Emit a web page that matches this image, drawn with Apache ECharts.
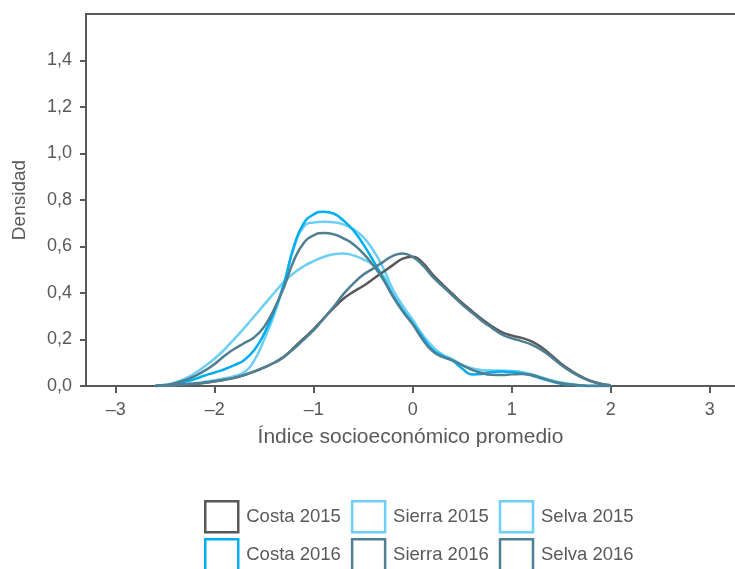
<!DOCTYPE html>
<html>
<head>
<meta charset="utf-8">
<script src="https://cdn.jsdelivr.net/npm/echarts@6/dist/echarts.min.js"></script>
<style>
  html, body { margin: 0; padding: 0; background: #fff; }
  #chart { width: 735px; height: 569px; }
</style>
</head>
<body>
<div id="chart"></div>
<script>
// puntos del índice (eje x), de -2,6 a 2,0
const indice = [-2.6, -2.5, -2.4, -2.3, -2.2, -2.1, -2.0, -1.9, -1.8, -1.7, -1.6, -1.5, -1.4, -1.3,
  -1.2, -1.1, -1.0, -0.9, -0.8, -0.7, -0.6, -0.5, -0.4, -0.3, -0.2, -0.1, 0, 0.1, 0.2, 0.3,
  0.4, 0.5, 0.6, 0.7, 0.8, 0.9, 1.0, 1.1, 1.2, 1.3, 1.4, 1.5, 1.6, 1.7, 1.8, 1.9, 2.0];

// densidades
const costa2015 = [0, 0.002, 0.004, 0.007, 0.01, 0.014, 0.02, 0.027, 0.035, 0.047, 0.062, 0.08, 0.1, 0.125,
  0.165, 0.205, 0.245, 0.29, 0.335, 0.375, 0.405, 0.43, 0.46, 0.49, 0.52, 0.548, 0.556, 0.53, 0.48, 0.437,
  0.397, 0.357, 0.322, 0.287, 0.257, 0.232, 0.217, 0.207, 0.192, 0.167, 0.132, 0.096, 0.066, 0.041, 0.022, 0.01, 0.003];
const costa2016 = [0, 0.003, 0.008, 0.018, 0.03, 0.045, 0.058, 0.072, 0.09, 0.112, 0.155, 0.225, 0.32, 0.44,
  0.6, 0.7, 0.738, 0.75, 0.742, 0.712, 0.67, 0.61, 0.54, 0.465, 0.39, 0.325, 0.27, 0.21, 0.155, 0.13,
  0.11, 0.075, 0.05, 0.052, 0.06, 0.062, 0.06, 0.055, 0.045, 0.032, 0.02, 0.01, 0.005, 0.002, 0, 0, 0];
const sierra2015 = [0, 0.002, 0.004, 0.008, 0.012, 0.018, 0.025, 0.033, 0.043, 0.06, 0.11, 0.2, 0.305, 0.44,
  0.595, 0.685, 0.703, 0.706, 0.704, 0.695, 0.675, 0.64, 0.585, 0.51, 0.415, 0.345, 0.285, 0.22, 0.17, 0.135,
  0.115, 0.09, 0.075, 0.068, 0.066, 0.066, 0.065, 0.06, 0.05, 0.038, 0.025, 0.015, 0.008, 0.003, 0, 0, 0];
const selva2015 = [0, 0.005, 0.015, 0.032, 0.055, 0.085, 0.118, 0.158, 0.203, 0.25, 0.3, 0.35, 0.4, 0.448,
  0.486, 0.515, 0.537, 0.555, 0.567, 0.57, 0.562, 0.545, 0.52, 0.475, 0.41, 0.34, 0.28, 0.215, 0.165, 0.132,
  0.113, 0.09, 0.075, 0.068, 0.066, 0.065, 0.063, 0.058, 0.048, 0.036, 0.024, 0.014, 0.007, 0.003, 0, 0, 0];
const sierra2016 = [0, 0.004, 0.012, 0.025, 0.043, 0.066, 0.095, 0.13, 0.16, 0.185, 0.21, 0.255, 0.33, 0.425,
  0.54, 0.615, 0.648, 0.658, 0.653, 0.635, 0.61, 0.57, 0.52, 0.46, 0.385, 0.32, 0.265, 0.2, 0.15, 0.125,
  0.11, 0.09, 0.07, 0.055, 0.048, 0.047, 0.05, 0.052, 0.048, 0.035, 0.022, 0.012, 0.006, 0.002, 0, 0, 0];
const selva2016 = [0, 0.002, 0.004, 0.007, 0.01, 0.014, 0.02, 0.027, 0.036, 0.048, 0.063, 0.08, 0.1, 0.127,
  0.16, 0.2, 0.24, 0.29, 0.34, 0.395, 0.44, 0.478, 0.505, 0.533, 0.56, 0.57, 0.555, 0.52, 0.47, 0.43,
  0.39, 0.35, 0.315, 0.28, 0.25, 0.222, 0.205, 0.193, 0.178, 0.155, 0.125, 0.09, 0.062, 0.038, 0.02, 0.009, 0.003];

const xTicks = [-3, -2, -1, 0, 1, 2, 3];
const yTicks = [0, 0.2, 0.4, 0.6, 0.8, 1.0, 1.2, 1.4];

const gris = '#58595b';
const colores = {
  'Costa 2015': '#58595b',
  'Sierra 2015': '#6dcff6',
  'Selva 2015': '#6dcff6',
  'Costa 2016': '#00aeef',
  'Sierra 2016': '#4e7f93',
  'Selva 2016': '#4e7f93'
};

const pares = ys => indice.map((x, i) => [x, ys[i]]);

const linea = (name, ys) => ({
  name: name,
  type: 'line',
  data: pares(ys),
  smooth: true,
  showSymbol: false,
  lineStyle: { width: 2.5, color: colores[name] },
  itemStyle: { color: colores[name] }
});

const fuente = 'Liberation Sans, Arial, sans-serif';

const itemLeyenda = name => ({
  name: name,
  itemStyle: { color: '#fff', borderColor: colores[name], borderWidth: 2.5 }
});

const leyenda = (names, top) => ({
  left: 199,
  top: top,
  orient: 'horizontal',
  icon: 'rect',
  itemWidth: 33,
  itemHeight: 31,
  itemGap: 10,
  selectedMode: false,
  textStyle: { color: gris, fontSize: 18.5, fontFamily: fuente, padding: [0, 0, 0, 3] },
  data: names.map(itemLeyenda)
});

const chart = echarts.init(document.getElementById('chart'));

const option = {
  animation: false,
  backgroundColor: '#fff',
  grid: { left: 86, right: 0, top: 14, height: 372 },
  legend: [
    leyenda(['Costa 2015', 'Sierra 2015', 'Selva 2015'], 495),
    leyenda(['Costa 2016', 'Sierra 2016', 'Selva 2016'], 533)
  ],
  xAxis: [
    {
      type: 'value',
      min: -3.3,
      max: 3.256,
      name: 'Índice socioeconómico promedio',
      nameLocation: 'middle',
      nameGap: 41,
      nameTextStyle: { color: gris, fontSize: 21, fontFamily: fuente },
      splitLine: { show: false },
      axisLine: { onZero: false, lineStyle: { color: gris, width: 2 } },
      axisTick: { length: 7, lineStyle: { color: gris, width: 2 }, customValues: xTicks },
      axisLabel: {
        color: gris, fontSize: 18, fontFamily: fuente, margin: 15,
        customValues: xTicks,
        formatter: v => String(v).replace('-', '–')
      }
    },
    {
      type: 'value',
      position: 'top',
      min: -3.3,
      max: 3.256,
      splitLine: { show: false },
      axisLine: { show: true, onZero: false, lineStyle: { color: gris, width: 2 } },
      axisTick: { show: false },
      axisLabel: { show: false }
    }
  ],
  yAxis: {
    type: 'value',
    min: 0,
    max: 1.6,
    name: 'Densidad',
    nameLocation: 'middle',
    nameGap: 57,
    nameTextStyle: { color: gris, fontSize: 19, fontFamily: fuente },
    splitLine: { show: false },
    axisLine: { show: true, onZero: false, lineStyle: { color: gris, width: 2 } },
    axisTick: { show: true, length: 6, lineStyle: { color: gris, width: 2 }, customValues: yTicks },
    axisLabel: {
      color: gris, fontSize: 18, fontFamily: fuente, margin: 14,
      customValues: yTicks,
      formatter: v => v.toFixed(1).replace('.', ',')
    }
  },
  series: [
    linea('Sierra 2015', sierra2015),
    linea('Selva 2015', selva2015),
    linea('Costa 2016', costa2016),
    linea('Costa 2015', costa2015),
    linea('Sierra 2016', sierra2016),
    linea('Selva 2016', selva2016)
  ]
};

chart.setOption(option);
</script>
</body>
</html>
